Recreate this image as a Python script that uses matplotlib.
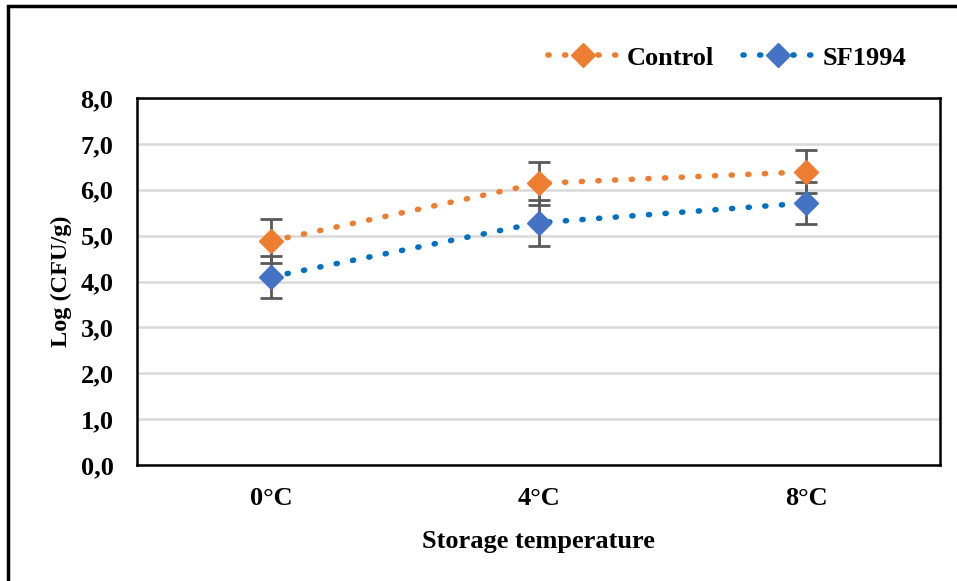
import matplotlib.pyplot as plt
from matplotlib.patches import Rectangle

plt.rcParams['font.family'] = ['Liberation Serif', 'DejaVu Serif']
plt.rcParams['font.weight'] = 'bold'

temps = ['0°C', '4°C', '8°C']
control = [4.88, 6.14, 6.39]
control_err = [0.48, 0.47, 0.47]
sf1994 = [4.10, 5.28, 5.71]
sf1994_err = [0.46, 0.50, 0.45]
yticks = [0, 1, 2, 3, 4, 5, 6, 7, 8]

fig = plt.figure(figsize=(9.57, 5.81), dpi=100)
ax = fig.add_axes([137/957, 1 - 465/581, (940-137)/957, (465-98)/581])

x = list(range(len(temps)))
dots = (0, (0.2, 2.8))
l1, = ax.plot(x, control, color='#ED7D31', lw=4, linestyle=dots,
              dash_capstyle='round', marker='D', ms=12, mfc='#ED7D31', mec='#ED7D31',
              label='Control', zorder=4)
ax.errorbar(x, control, yerr=control_err, fmt='none', ecolor='#595959',
            elinewidth=2, capsize=8, capthick=2, zorder=3)
l2, = ax.plot(x, sf1994, color='#0070C0', lw=4, linestyle=dots,
              dash_capstyle='round', marker='D', ms=12, mfc='#4472C4', mec='#4472C4',
              label='SF1994', zorder=4)
ax.errorbar(x, sf1994, yerr=sf1994_err, fmt='none', ecolor='#595959',
            elinewidth=2, capsize=8, capthick=2, zorder=3)

ax.set_xlim(-0.5, 2.5)
ax.set_ylim(0, 8)
ax.set_yticks(yticks)
ax.set_yticklabels(['%d,0' % v for v in yticks])
ax.set_xticks(x)
ax.set_xticklabels(temps)
ax.tick_params(axis='y', length=0, labelsize=19, pad=17)
ax.tick_params(axis='x', length=0, labelsize=19, pad=16)
for lab in ax.get_xticklabels() + ax.get_yticklabels():
    lab.set_fontweight('bold')
ax.grid(axis='y', color='#d9d9d9', lw=1.8, zorder=0)
ax.set_axisbelow(True)
for s in ax.spines.values():
    s.set_linewidth(1.8)
    s.set_color('black')

ax.set_xlabel('Storage temperature', fontsize=19, fontweight='bold', labelpad=14)
ax.set_ylabel('Log (CFU/g)', fontsize=17.5, fontweight='bold', labelpad=6)

fig.legend(handles=[l1, l2], loc='center', bbox_to_anchor=(727/957, 1 - 58/581),
           ncol=2, frameon=False, prop={'size': 19, 'weight': 'bold'},
           handlelength=2.65, columnspacing=1.1, handletextpad=0.35)

# outer frame (top and left edges show)
fig.patches.append(Rectangle((8/957, -0.1), 1.2, 1 - 6/581 + 0.1, transform=fig.transFigure,
                             fill=False, ec='black', lw=2.5))

fig.savefig('out.png', dpi=100)
